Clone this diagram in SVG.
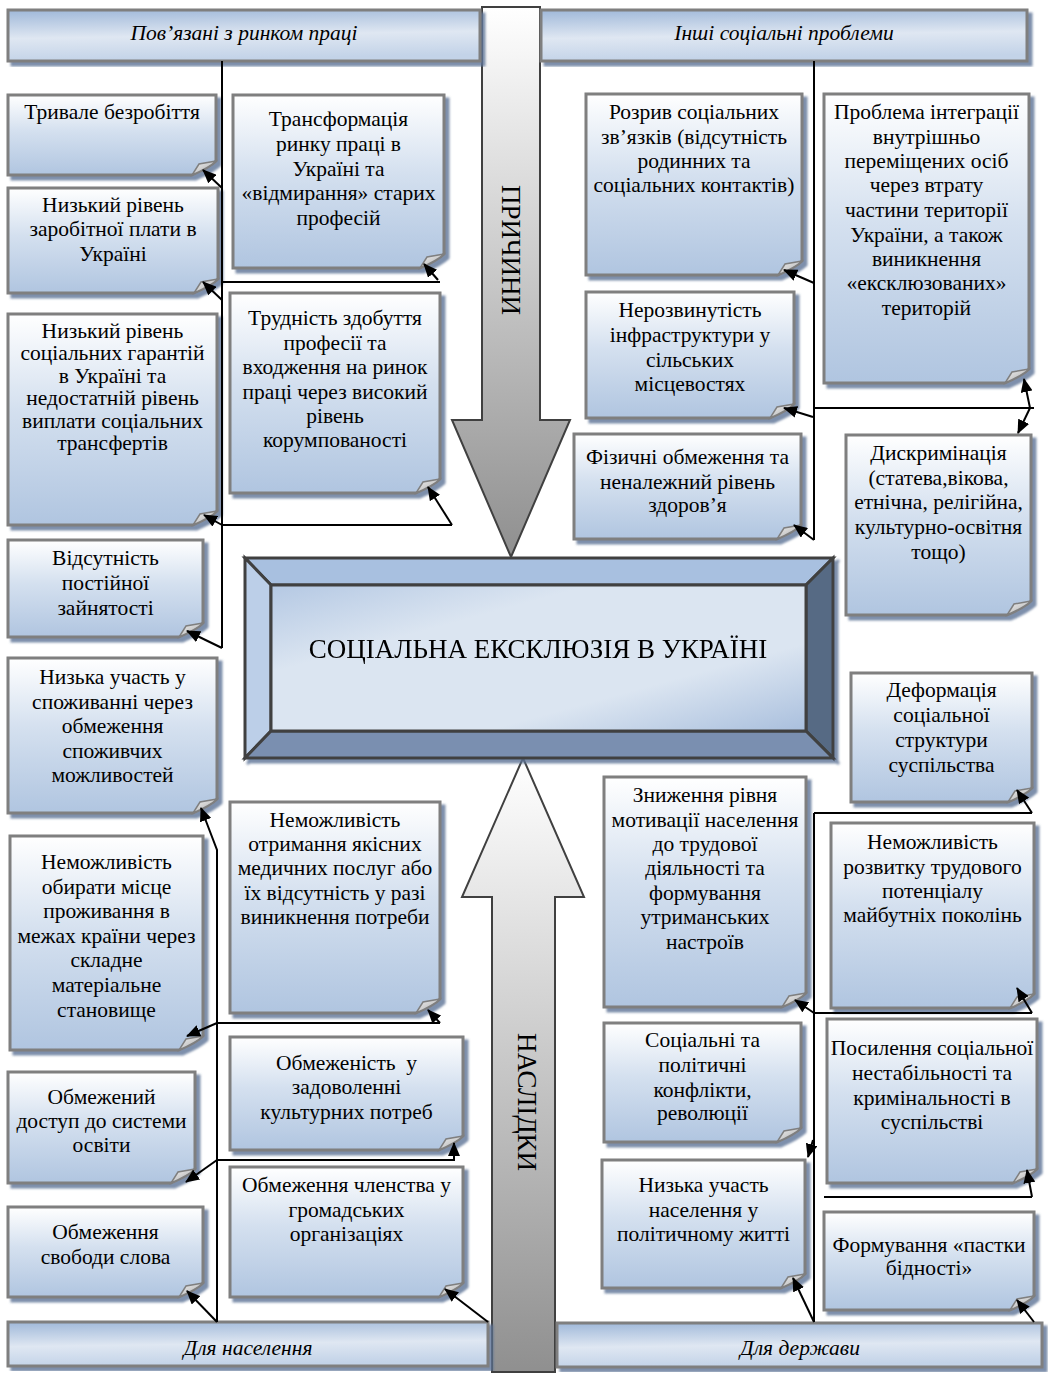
<svg xmlns="http://www.w3.org/2000/svg" width="1048" height="1374" viewBox="0 0 1048 1374">
<style>
.body{fill:url(#ng);stroke:#7f7f7f;stroke-width:3;filter:url(#sh)}
.flap{fill:url(#fg);stroke:#7f7f7f;stroke-width:1.5}
.t{font-family:"Liberation Serif","Times New Roman",serif;font-size:21.5px;text-anchor:middle;fill:#000}
.hd{fill:url(#hg);stroke:#7f7f7f;stroke-width:3;filter:url(#sh)}
.ht{font-family:"Liberation Serif","Times New Roman",serif;font-size:21.5px;font-style:italic;text-anchor:middle;fill:#000}
.big{font-family:"Liberation Serif","Times New Roman",serif;font-size:27px;text-anchor:middle;fill:#000}
.ln{fill:none;stroke:#000;stroke-width:2}
.ar{fill:none;stroke:#000;stroke-width:2;marker-end:url(#ah)}
.bev{stroke:#404040;stroke-width:3;stroke-linejoin:miter}
</style>
<defs>
<linearGradient id="ng" x1="0" y1="0" x2="0" y2="1"><stop offset="0" stop-color="#ffffff"/><stop offset="0.45" stop-color="#d4e0ef"/><stop offset="1" stop-color="#b0c5e0"/></linearGradient>
<linearGradient id="fg" x1="0" y1="0" x2="1" y2="1"><stop offset="0" stop-color="#f2f2f2"/><stop offset="1" stop-color="#a8a8a8"/></linearGradient>
<linearGradient id="hg" x1="0" y1="0" x2="0.15" y2="1"><stop offset="0" stop-color="#9fb8d9"/><stop offset="0.55" stop-color="#dfe7f2"/><stop offset="1" stop-color="#c3d3e8"/></linearGradient>
<linearGradient id="dg" gradientUnits="userSpaceOnUse" x1="0" y1="7" x2="0" y2="557"><stop offset="0" stop-color="#ffffff"/><stop offset="1" stop-color="#8f8f8f"/></linearGradient>
<linearGradient id="ug" gradientUnits="userSpaceOnUse" x1="0" y1="760" x2="0" y2="1374"><stop offset="0" stop-color="#ffffff"/><stop offset="1" stop-color="#8f8f8f"/></linearGradient>
<linearGradient id="cf" x1="0" y1="0" x2="1" y2="1"><stop offset="0" stop-color="#b4c8e3"/><stop offset="0.3" stop-color="#dbe5f1"/><stop offset="0.7" stop-color="#dbe5f1"/><stop offset="1" stop-color="#a9bfdd"/></linearGradient>
<filter id="sh" x="-5%" y="-5%" width="115%" height="115%"><feDropShadow dx="4" dy="4" stdDeviation="1" flood-color="#5b7396" flood-opacity="0.8"/></filter>
<marker id="ah" markerUnits="userSpaceOnUse" markerWidth="15" markerHeight="12" refX="13" refY="6" orient="auto"><path d="M0,0 L14,6 L0,12 Z" fill="#000"/></marker>
</defs>
<rect width="1048" height="1374" fill="#fff"/>

<g id="arrow-causes">
<polygon points="482,7 540,7 540,420 570,420 511,557 452,420 482,420" fill="url(#dg)" stroke="#404040" stroke-width="2"/>
<text class="big" transform="translate(511,250) rotate(90)" dominant-baseline="central">ПРИЧИНИ</text>
</g>
<g id="arrow-effects">
<polygon points="523,758 584,897 555,897 555,1372 492,1372 492,897 462,897" fill="url(#ug)" stroke="#404040" stroke-width="2"/>
<text class="big" transform="translate(527,1102) rotate(90)" dominant-baseline="central">НАСЛІДКИ</text>
</g>

<g id="center" filter="url(#sh)">
<polygon class="bev" points="245,558 833,558 806,585 271,585" fill="#a8c0e0"/>
<polygon class="bev" points="245,558 271,585 271,731 245,758" fill="#bccfe8"/>
<polygon class="bev" points="833,558 833,758 806,731 806,585" fill="#566a84"/>
<polygon class="bev" points="245,758 833,758 806,731 271,731" fill="#7a8fb0"/>
<rect class="bev" x="271" y="585" width="535" height="146" fill="url(#cf)"/>
<text class="big" x="538" y="658">СОЦІАЛЬНА ЕКСКЛЮЗІЯ В УКРАЇНІ</text>
</g>

<g id="h-labor"><rect class="hd" x="8" y="10" width="472" height="51"/><text class="ht" x="244" y="40">Пов’язані з ринком праці</text></g>
<g id="h-other"><rect class="hd" x="541" y="10" width="486" height="51"/><text class="ht" x="784" y="40">Інші соціальні проблеми</text></g>
<g id="h-pop"><rect class="hd" x="8" y="1322" width="480" height="44"/><text class="ht" x="248" y="1355">Для населення</text></g>
<g id="h-state"><rect class="hd" x="557" y="1323" width="485" height="44"/><text class="ht" x="800" y="1355">Для держави</text></g>

<g id="n1"><path class="body" d="M8,95 H216 V161 Q210,167 192,175 H8 Z"/><path class="flap" d="M216,161 L199,164 L192,175 Q210,167 216,161 Z"/><text class="t"><tspan x="112" y="119">Тривале безробіття</tspan></text></g>
<g id="n2"><path class="body" d="M8,188 H218 V279 Q212,285 194,293 H8 Z"/><path class="flap" d="M218,279 L201,282 L194,293 Q212,285 218,279 Z"/><text class="t"><tspan x="113" y="212">Низький рівень</tspan><tspan x="113" y="236">заробітної плати в</tspan><tspan x="113" y="261">Україні</tspan></text></g>
<g id="n3"><path class="body" d="M233,95 H444 V254 Q438,260 420,268 H233 Z"/><path class="flap" d="M444,254 L427,257 L420,268 Q438,260 444,254 Z"/><text class="t"><tspan x="338.5" y="126">Трансформація</tspan><tspan x="338.5" y="151">ринку праці в</tspan><tspan x="338.5" y="176">Україні та</tspan><tspan x="338.5" y="200">«відмирання» старих</tspan><tspan x="338.5" y="225">професій</tspan></text></g>
<g id="n4"><path class="body" d="M230,293 H440 V479 Q434,485 416,493 H230 Z"/><path class="flap" d="M440,479 L423,482 L416,493 Q434,485 440,479 Z"/><text class="t"><tspan x="335" y="325">Трудність здобуття</tspan><tspan x="335" y="350">професії та</tspan><tspan x="335" y="374">входження на ринок</tspan><tspan x="335" y="399">праці через високий</tspan><tspan x="335" y="423">рівень</tspan><tspan x="335" y="447">корумпованості</tspan></text></g>
<g id="n5"><path class="body" d="M8,314 H217 V511 Q211,517 193,525 H8 Z"/><path class="flap" d="M217,511 L200,514 L193,525 Q211,517 217,511 Z"/><text class="t"><tspan x="112.5" y="338">Низький рівень</tspan><tspan x="112.5" y="360">соціальних гарантій</tspan><tspan x="112.5" y="383">в Україні та</tspan><tspan x="112.5" y="405">недостатній рівень</tspan><tspan x="112.5" y="428">виплати соціальних</tspan><tspan x="112.5" y="450">трансфертів</tspan></text></g>
<g id="n6"><path class="body" d="M8,540 H203 V623 Q197,629 179,637 H8 Z"/><path class="flap" d="M203,623 L186,626 L179,637 Q197,629 203,623 Z"/><text class="t"><tspan x="105.5" y="565">Відсутність</tspan><tspan x="105.5" y="590">постійної</tspan><tspan x="105.5" y="615">зайнятості</tspan></text></g>
<g id="n7"><path class="body" d="M8,658 H217 V799 Q211,805 193,813 H8 Z"/><path class="flap" d="M217,799 L200,802 L193,813 Q211,805 217,799 Z"/><text class="t"><tspan x="112.5" y="684">Низька участь у</tspan><tspan x="112.5" y="709">споживанні через</tspan><tspan x="112.5" y="733">обмеження</tspan><tspan x="112.5" y="758">споживчих</tspan><tspan x="112.5" y="782">можливостей</tspan></text></g>
<g id="n8"><path class="body" d="M10,836 H203 V1036 Q197,1042 179,1050 H10 Z"/><path class="flap" d="M203,1036 L186,1039 L179,1050 Q197,1042 203,1036 Z"/><text class="t"><tspan x="106.5" y="869">Неможливість</tspan><tspan x="106.5" y="894">обирати місце</tspan><tspan x="106.5" y="918">проживання в</tspan><tspan x="106.5" y="943">межах країни через</tspan><tspan x="106.5" y="967">складне</tspan><tspan x="106.5" y="992">матеріальне</tspan><tspan x="106.5" y="1017">становище</tspan></text></g>
<g id="n9"><path class="body" d="M230,802 H440 V999 Q434,1005 416,1013 H230 Z"/><path class="flap" d="M440,999 L423,1002 L416,1013 Q434,1005 440,999 Z"/><text class="t"><tspan x="335" y="827">Неможливість</tspan><tspan x="335" y="851">отримання якісних</tspan><tspan x="335" y="875">медичних послуг або</tspan><tspan x="335" y="900">їх відсутність у разі</tspan><tspan x="335" y="924">виникнення потреби</tspan></text></g>
<g id="n10"><path class="body" d="M230,1037 H463 V1136 Q457,1142 439,1150 H230 Z"/><path class="flap" d="M463,1136 L446,1139 L439,1150 Q457,1142 463,1136 Z"/><text class="t"><tspan x="346.5" y="1070" style="white-space:pre">Обмеженість  у</tspan><tspan x="346.5" y="1094">задоволенні</tspan><tspan x="346.5" y="1119">культурних потреб</tspan></text></g>
<g id="n11"><path class="body" d="M230,1167 H463 V1283 Q457,1289 439,1297 H230 Z"/><path class="flap" d="M463,1283 L446,1286 L439,1297 Q457,1289 463,1283 Z"/><text class="t"><tspan x="346.5" y="1192">Обмеження членства у</tspan><tspan x="346.5" y="1217">громадських</tspan><tspan x="346.5" y="1241">організаціях</tspan></text></g>
<g id="n12"><path class="body" d="M8,1072 H195 V1169 Q189,1175 171,1183 H8 Z"/><path class="flap" d="M195,1169 L178,1172 L171,1183 Q189,1175 195,1169 Z"/><text class="t"><tspan x="101.5" y="1104">Обмежений</tspan><tspan x="101.5" y="1128">доступ до системи</tspan><tspan x="101.5" y="1152">освіти</tspan></text></g>
<g id="n13"><path class="body" d="M8,1207 H203 V1283 Q197,1289 179,1297 H8 Z"/><path class="flap" d="M203,1283 L186,1286 L179,1297 Q197,1289 203,1283 Z"/><text class="t"><tspan x="105.5" y="1239">Обмеження</tspan><tspan x="105.5" y="1264">свободи слова</tspan></text></g>
<g id="n14"><path class="body" d="M586,94 H802 V261 Q796,267 778,275 H586 Z"/><path class="flap" d="M802,261 L785,264 L778,275 Q796,267 802,261 Z"/><text class="t"><tspan x="694" y="119">Розрив соціальних</tspan><tspan x="694" y="144">зв’язків (відсутність</tspan><tspan x="694" y="168">родинних та</tspan><tspan x="694" y="192">соціальних контактів)</tspan></text></g>
<g id="n15"><path class="body" d="M824,94 H1029 V369 Q1023,375 1005,383 H824 Z"/><path class="flap" d="M1029,369 L1012,372 L1005,383 Q1023,375 1029,369 Z"/><text class="t"><tspan x="926.5" y="119">Проблема інтеграції</tspan><tspan x="926.5" y="144">внутрішньо</tspan><tspan x="926.5" y="168">переміщених осіб</tspan><tspan x="926.5" y="192">через втрату</tspan><tspan x="926.5" y="217">частини території</tspan><tspan x="926.5" y="242">України, а також</tspan><tspan x="926.5" y="266">виникнення</tspan><tspan x="926.5" y="290">«ексклюзованих»</tspan><tspan x="926.5" y="315">територій</tspan></text></g>
<g id="n16"><path class="body" d="M586,292 H794 V404 Q788,410 770,418 H586 Z"/><path class="flap" d="M794,404 L777,407 L770,418 Q788,410 794,404 Z"/><text class="t"><tspan x="690" y="317">Нерозвинутість</tspan><tspan x="690" y="342">інфраструктури у</tspan><tspan x="690" y="367">сільських</tspan><tspan x="690" y="391">місцевостях</tspan></text></g>
<g id="n17"><path class="body" d="M574,434 H801 V525 Q795,531 777,539 H574 Z"/><path class="flap" d="M801,525 L784,528 L777,539 Q795,531 801,525 Z"/><text class="t"><tspan x="687.5" y="464">Фізичні обмеження та</tspan><tspan x="687.5" y="489">неналежний рівень</tspan><tspan x="687.5" y="512">здоров’я</tspan></text></g>
<g id="n18"><path class="body" d="M846,435 H1031 V601 Q1025,607 1007,615 H846 Z"/><path class="flap" d="M1031,601 L1014,604 L1007,615 Q1025,607 1031,601 Z"/><text class="t"><tspan x="938.5" y="460">Дискримінація</tspan><tspan x="938.5" y="485">(статева,вікова,</tspan><tspan x="938.5" y="509">етнічна, релігійна,</tspan><tspan x="938.5" y="534">культурно-освітня</tspan><tspan x="938.5" y="559">тощо)</tspan></text></g>
<g id="n19"><path class="body" d="M851,673 H1032 V788 Q1026,794 1008,802 H851 Z"/><path class="flap" d="M1032,788 L1015,791 L1008,802 Q1026,794 1032,788 Z"/><text class="t"><tspan x="941.5" y="697">Деформація</tspan><tspan x="941.5" y="722">соціальної</tspan><tspan x="941.5" y="747">структури</tspan><tspan x="941.5" y="772">суспільства</tspan></text></g>
<g id="n20"><path class="body" d="M604,777 H806 V993 Q800,999 782,1007 H604 Z"/><path class="flap" d="M806,993 L789,996 L782,1007 Q800,999 806,993 Z"/><text class="t"><tspan x="705" y="802">Зниження рівня</tspan><tspan x="705" y="827">мотивації населення</tspan><tspan x="705" y="851">до трудової</tspan><tspan x="705" y="875">діяльності та</tspan><tspan x="705" y="900">формування</tspan><tspan x="705" y="924">утриманських</tspan><tspan x="705" y="949">настроїв</tspan></text></g>
<g id="n21"><path class="body" d="M831,823 H1034 V994 Q1028,1000 1010,1008 H831 Z"/><path class="flap" d="M1034,994 L1017,997 L1010,1008 Q1028,1000 1034,994 Z"/><text class="t"><tspan x="932.5" y="849">Неможливість</tspan><tspan x="932.5" y="874">розвитку трудового</tspan><tspan x="932.5" y="898">потенціалу</tspan><tspan x="932.5" y="922">майбутніх поколінь</tspan></text></g>
<g id="n22"><path class="body" d="M604,1023 H801 V1128 Q795,1134 777,1142 H604 Z"/><path class="flap" d="M801,1128 L784,1131 L777,1142 Q795,1134 801,1128 Z"/><text class="t"><tspan x="702.5" y="1047">Соціальні та</tspan><tspan x="702.5" y="1072">політичні</tspan><tspan x="702.5" y="1097">конфлікти,</tspan><tspan x="702.5" y="1120">революції</tspan></text></g>
<g id="n23"><path class="body" d="M827,1019 H1037 V1169 Q1031,1175 1013,1183 H827 Z"/><path class="flap" d="M1037,1169 L1020,1172 L1013,1183 Q1031,1175 1037,1169 Z"/><text class="t"><tspan x="932" y="1055">Посилення соціальної</tspan><tspan x="932" y="1080">нестабільності та</tspan><tspan x="932" y="1105">кримінальності в</tspan><tspan x="932" y="1129">суспільстві</tspan></text></g>
<g id="n24"><path class="body" d="M602,1160 H805 V1274 Q799,1280 781,1288 H602 Z"/><path class="flap" d="M805,1274 L788,1277 L781,1288 Q799,1280 805,1274 Z"/><text class="t"><tspan x="703.5" y="1192">Низька участь</tspan><tspan x="703.5" y="1217">населення у</tspan><tspan x="703.5" y="1241">політичному житті</tspan></text></g>
<g id="n25"><path class="body" d="M824,1212 H1034 V1296 Q1028,1302 1010,1310 H824 Z"/><path class="flap" d="M1034,1296 L1017,1299 L1010,1310 Q1028,1302 1034,1296 Z"/><text class="t"><tspan x="929" y="1252">Формування «пастки</tspan><tspan x="929" y="1275">бідності»</tspan></text></g>

<g id="connectors">
<path class="ln" d="M222,61 V648"/>
<path class="ar" d="M222,188 L203,170"/>
<path class="ar" d="M222,300 L203,282"/>
<path class="ln" d="M222,282 H440"/>
<path class="ar" d="M438,280 L424,264"/>
<path class="ln" d="M222,525 H452"/>
<path class="ar" d="M452,525 L428,487"/>
<path class="ar" d="M222,525 L204,515"/>
<path class="ar" d="M222,648 L187,631"/>
<path class="ln" d="M814,61 V540"/>
<path class="ar" d="M814,283 L784,270"/>
<path class="ar" d="M813,417 L784,408"/>
<path class="ar" d="M814,540 L794,525"/>
<path class="ln" d="M814,408 H1034"/>
<path class="ar" d="M1030,408 L1024,379"/>
<path class="ar" d="M1030,408 L1018,433"/>
<path class="ar" d="M217,1322 V850 L201,808"/>
<path class="ln" d="M217,1023 H440"/>
<path class="ar" d="M217,1023 L187,1036"/>
<path class="ar" d="M440,1023 L428,1010"/>
<path class="ln" d="M217,1160 H455"/>
<path class="ar" d="M217,1160 L186,1182"/>
<path class="ar" d="M454,1160 V1143"/>
<path class="ar" d="M217,1322 L187,1291"/>
<path class="ar" d="M488,1322 L445,1289"/>
<path class="ln" d="M814,813 V1322"/>
<path class="ln" d="M814,813 H1032"/>
<path class="ar" d="M1032,813 L1017,790"/>
<path class="ln" d="M814,1013 H1032"/>
<path class="ar" d="M814,1013 L795,1000"/>
<path class="ar" d="M1032,1013 L1017,988"/>
<path class="ar" d="M813,1140 L808,1157"/>
<path class="ln" d="M824,1197 H1032"/>
<path class="ar" d="M1032,1197 L1027,1170"/>
<path class="ar" d="M814,1322 L793,1278"/>
<path class="ar" d="M1034,1322 L1017,1300"/>
</g>
</svg>
